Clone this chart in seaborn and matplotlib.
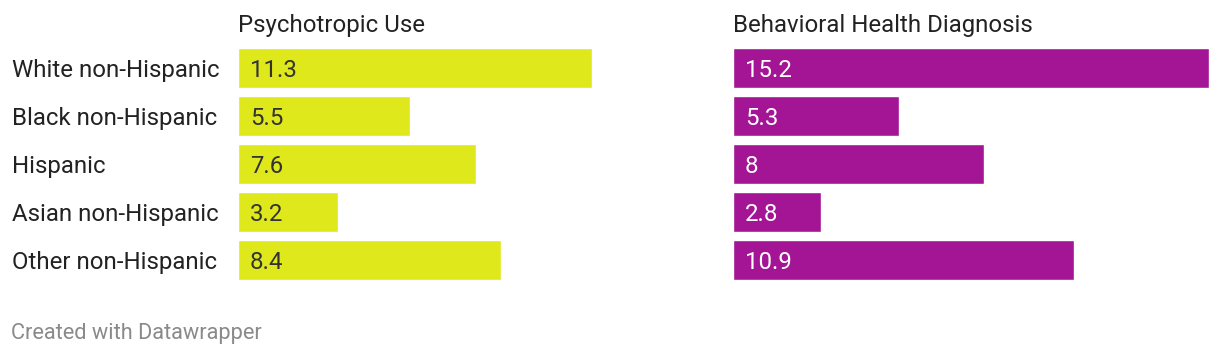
import matplotlib
matplotlib.use("Agg")
import matplotlib.pyplot as plt
import matplotlib.transforms as mtransforms
import seaborn as sns
import pandas as pd

categories = ["White non-Hispanic", "Black non-Hispanic", "Hispanic",
              "Asian non-Hispanic", "Other non-Hispanic"]
psychotropic_use = [11.3, 5.5, 7.6, 3.2, 8.4]
behavioral_health = [15.2, 5.3, 8, 2.8, 10.9]
value_labels_left = ["11.3", "5.5", "7.6", "3.2", "8.4"]
value_labels_right = ["15.2", "5.3", "8", "2.8", "10.9"]
titles = ["Psychotropic Use", "Behavioral Health Diagnosis"]
footer = "Created with Datawrapper"

sns.set_style("white")
plt.rcParams["font.family"] = ["Roboto", "DejaVu Sans"]

W, H = 1220, 356
fig = plt.figure(figsize=(W / 100, H / 100), dpi=100)

FS = 17.3
top_px, bot_px = 44, 284
ax_w = 476
panels = [
    (238, psychotropic_use, value_labels_left, "#dfe81a", "#333333", titles[0]),
    (733, behavioral_health, value_labels_right, "#a31594", "#ffffff", titles[1]),
]
xmax = max(max(psychotropic_use), max(behavioral_health))

axes = []
for left_px, vals, labs, col, tcol, title in panels:
    ax = fig.add_axes([left_px / W, 1 - bot_px / H, ax_w / W, (bot_px - top_px) / H])
    df = pd.DataFrame({"cat": categories, "val": vals})
    sns.barplot(data=df, x="val", y="cat", ax=ax, color=col, saturation=1,
                width=40 / 48, orient="h")
    ax.set_xlim(0, xmax)
    ax.set_ylim(len(categories) - 0.5, -0.5)
    ax.set_xlabel("")
    ax.set_ylabel("")
    ax.set_xticks([])
    ax.set_yticks([])
    for s in ax.spines.values():
        s.set_visible(False)
    ax.set_title(title, loc="left", fontsize=FS, color="#222222", pad=8.6)
    for i, (v, lab) in enumerate(zip(vals, labs)):
        ax.annotate(lab, xy=(0, i), xytext=(8.6, 0), textcoords="offset points",
                    ha="left", va="center_baseline", fontsize=FS, color=tcol)
    axes.append(ax)

trans = mtransforms.blended_transform_factory(fig.transFigure, axes[0].transData)
for i, c in enumerate(categories):
    axes[0].text(12 / W, i, c, transform=trans, ha="left", va="center_baseline",
                 fontsize=FS, color="#222222")

fig.text(11 / W, 1 - 333 / H, footer, ha="left", va="center",
         fontsize=15.7, color="#8a8a8a")

fig.savefig("out.png", dpi=100, facecolor="white")
